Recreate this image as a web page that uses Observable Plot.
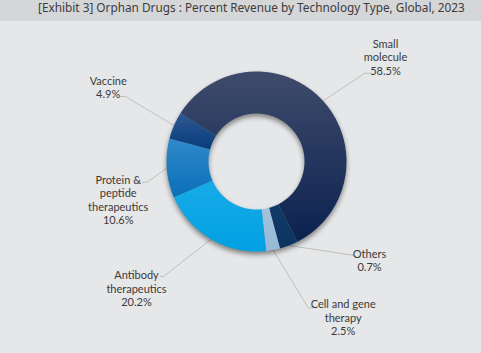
<!DOCTYPE html>
<html>
<head>
<meta charset="utf-8">
<script src="https://cdn.jsdelivr.net/npm/d3@7"></script>
<script src="https://cdn.jsdelivr.net/npm/@observablehq/plot@0.6"></script>
<style>
  html, body { margin: 0; padding: 0; background: #e6e7e8; }
  #wrap { width: 481px; height: 353px; overflow: hidden; background: #e6e7e8; }
  #title { height: 21px; background: #d5d6d7; font-family: "Noto Sans", sans-serif; font-size: 11.8px;
           line-height: 15px; color: #3c3c3c; white-space: nowrap; padding-left: 38px; box-sizing: border-box; }
  #title span { display: inline-block; margin-top: 0px; }
  svg g[aria-description="slices"] { filter: drop-shadow(0px 3px 2.5px rgba(0,0,0,0.45)); }
</style>
</head>
<body>
<div id="wrap">
  <div id="title"><span>[Exhibit 3] Orphan Drugs : Percent Revenue by Technology Type, Global, 2023</span></div>
  <div id="chart"></div>
</div>
<script>
// ---- data ----
const categories = ["Small molecule", "Others", "Cell and gene therapy", "Antibody therapeutics", "Protein & peptide therapeutics", "Vaccine"];
// shares as drawn in the reference (the "Others" wedge is drawn wider than its printed 0.7%)
const values = [58.5, 3.3, 2.5, 20.2, 10.6, 4.9];
const labelNames = ["Small\nmolecule", "Others", "Cell and gene\ntherapy", "Antibody\ntherapeutics", "Protein &\npeptide\ntherapeutics", "Vaccine"];
const percentLabels = ["58.5%", "0.7%", "2.5%", "20.2%", "10.6%", "4.9%"];

// ---- styles / layout ----
const gradients = [
  ["#3f4b6b", "#0b2250"],
  ["#0f3a68", "#0c3460"],
  ["#a0c2de", "#97b9d5"],
  ["#18abe8", "#00a0e2"],
  ["#3089ca", "#0a6fb8"],
  ["#2f5891", "#063c7d"]
];
const startDeg = -57.6;
const rOuter = 90, rInner = 48;
// label centre, then leader elbow and leader end (relative to donut centre, y down)
const labelLayout = [
  {lx: 129, ly: -104.5, pts: [[108.3, -88.3], [114, -88.3]]},
  {lx: 113, ly: 98.5, pts: [[98, 94]]},
  {lx: 86.7, ly: 156, pts: [[51.7, 146.3], [57.3, 146.3]]},
  {lx: -120, ly: 127, pts: [[-93, 115], [-96, 115]]},
  {lx: -138.3, ly: 38, pts: [[-109.3, 20.7], [-114.3, 20.7]]},
  {lx: -148.3, ly: -74.5, pts: [[-131, -65], [-136, -65]]}
];

const pie = d3.pie().sort(null).value(d => d)
  .startAngle(startDeg * Math.PI / 180)
  .endAngle(startDeg * Math.PI / 180 + 2 * Math.PI);
const arcs = pie(values);
const px = (r, a) => r * Math.sin(a);
const py = (r, a) => -r * Math.cos(a);

const slicePts = [];
arcs.forEach((a, i) => {
  const n = Math.max(2, Math.ceil((a.endAngle - a.startAngle) / (Math.PI / 360)));
  for (let k = 0; k <= n; k++) {
    const t = a.startAngle + (a.endAngle - a.startAngle) * k / n;
    slicePts.push({key: i, x: px(rOuter, t), y: py(rOuter, t), fill: `url(#grad${i})`});
  }
  for (let k = n; k >= 0; k--) {
    const t = a.startAngle + (a.endAngle - a.startAngle) * k / n;
    slicePts.push({key: i, x: px(rInner, t), y: py(rInner, t), fill: `url(#grad${i})`});
  }
});

const leaderPts = [];
arcs.forEach((a, i) => {
  const mid = (a.startAngle + a.endAngle) / 2;
  leaderPts.push({key: i, x: px(rOuter, mid), y: py(rOuter, mid)});
  labelLayout[i].pts.forEach(p => leaderPts.push({key: i, x: p[0], y: p[1]}));
});

const labelData = categories.map((c, i) => ({
  x: labelLayout[i].lx, y: labelLayout[i].ly, text: labelNames[i] + "\n" + percentLabels[i]
}));

const defsMark = () => {
  const ns = "http://www.w3.org/2000/svg";
  const g = document.createElementNS(ns, "g");
  const defs = document.createElementNS(ns, "defs");
  gradients.forEach((c, i) => {
    const lg = document.createElementNS(ns, "linearGradient");
    lg.setAttribute("id", `grad${i}`);
    lg.setAttribute("x1", "0"); lg.setAttribute("y1", "0");
    lg.setAttribute("x2", "0"); lg.setAttribute("y2", "1");
    [[0, c[0]], [1, c[1]]].forEach(([o, col]) => {
      const s = document.createElementNS(ns, "stop");
      s.setAttribute("offset", o);
      s.setAttribute("stop-color", col);
      lg.appendChild(s);
    });
    defs.appendChild(lg);
  });
  g.appendChild(defs);
  return g;
};

const chart = Plot.plot({
  width: 481,
  height: 332,
  margin: 0,
  style: {background: "transparent", overflow: "visible"},
  x: {domain: [-256, 225], axis: null},
  y: {domain: [192, -140], axis: null},
  color: {type: "identity"},
  marks: [
    defsMark,
    Plot.line(leaderPts, {x: "x", y: "y", z: "key", stroke: "#b5b5b5", strokeWidth: 0.8}),
    Plot.line(slicePts, {x: "x", y: "y", z: "key", fill: "fill", stroke: "none", ariaDescription: "slices"}),
    Plot.text(labelData, {x: "x", y: "y", text: "text", fontFamily: "Lato, sans-serif", fontSize: 11,
      lineHeight: 1.22, lineAnchor: "middle", textAnchor: "middle", fill: "#3a3a3a"})
  ]
});
document.getElementById("chart").appendChild(chart);
</script>
</body>
</html>
